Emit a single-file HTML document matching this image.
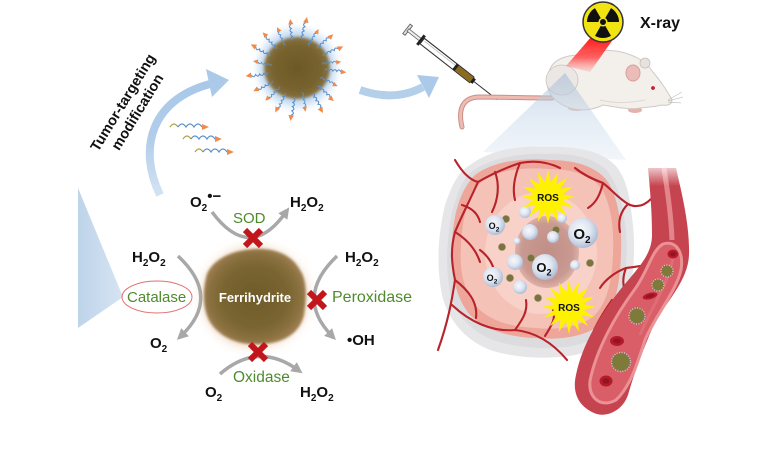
<!DOCTYPE html>
<html><head><meta charset="utf-8"><style>
html,body{margin:0;padding:0;background:#fff;}
svg{display:block;}
text{font-family:"Liberation Sans",Arial,sans-serif;}
</style></head><body>
<svg width="780" height="470" viewBox="0 0 780 470" xmlns="http://www.w3.org/2000/svg" xmlns:xlink="http://www.w3.org/1999/xlink">
<defs>
 <linearGradient id="triG" x1="0" y1="0" x2="1" y2="0"><stop offset="0" stop-color="#bed4ea"/><stop offset="1" stop-color="#d6e4f2"/></linearGradient>
 <linearGradient id="arcG" x1="0" y1="1" x2="0" y2="0"><stop offset="0" stop-color="#d3e3f3"/><stop offset="0.5" stop-color="#b2cdea"/><stop offset="1" stop-color="#a9c8e8"/></linearGradient>
 <linearGradient id="coneG" x1="0" y1="0" x2="0" y2="1"><stop offset="0" stop-color="#a3bbd3" stop-opacity="0.6"/><stop offset="0.45" stop-color="#c3d5e8" stop-opacity="0.5"/><stop offset="1" stop-color="#e2ebf5" stop-opacity="0.45"/></linearGradient>
 <linearGradient id="beamG" x1="0" y1="0" x2="0" y2="1"><stop offset="0" stop-color="#ff1010"/><stop offset="0.6" stop-color="#ff4040" stop-opacity="0.8"/><stop offset="1" stop-color="#ff9090" stop-opacity="0.25"/></linearGradient>
 <radialGradient id="npG"><stop offset="0" stop-color="#6c5826"/><stop offset="0.7" stop-color="#78632f"/><stop offset="0.92" stop-color="#85703e"/><stop offset="1" stop-color="#9a8656" stop-opacity="0.3"/></radialGradient>
 <radialGradient id="haloG"><stop offset="0.6" stop-color="#a6c8ee"/><stop offset="0.82" stop-color="#cfe2f6" stop-opacity="0.8"/><stop offset="1" stop-color="#ffffff" stop-opacity="0"/></radialGradient>
 <radialGradient id="ferG"><stop offset="0" stop-color="#6e5b2a"/><stop offset="0.65" stop-color="#7a6531"/><stop offset="0.9" stop-color="#8a7140"/><stop offset="1" stop-color="#9a7a4c"/></radialGradient>
 <radialGradient id="glowG"><stop offset="0.7" stop-color="#d9a878" stop-opacity="0.8"/><stop offset="1" stop-color="#f4dcc4" stop-opacity="0"/></radialGradient>
 <radialGradient id="bubG" cx="0.42" cy="0.4" r="0.6"><stop offset="0" stop-color="#f6f8fc"/><stop offset="0.55" stop-color="#dfe6f1"/><stop offset="0.85" stop-color="#bfcbe0"/><stop offset="1" stop-color="#aebdd6"/></radialGradient>
 <radialGradient id="coreG"><stop offset="0" stop-color="#c08e86"/><stop offset="0.8" stop-color="#c99a91"/><stop offset="1" stop-color="#deb1a8"/></radialGradient>
 <linearGradient id="topFade" x1="0" y1="0" x2="0" y2="1"><stop offset="0" stop-color="#fff" stop-opacity="1"/><stop offset="1" stop-color="#fff" stop-opacity="0"/></linearGradient>
 <filter id="b1" x="-20%" y="-20%" width="140%" height="140%"><feGaussianBlur stdDeviation="1.2"/></filter>
 <filter id="b2" x="-30%" y="-30%" width="160%" height="160%"><feGaussianBlur stdDeviation="2.2"/></filter>
 <filter id="b4" x="-30%" y="-30%" width="160%" height="160%"><feGaussianBlur stdDeviation="4"/></filter>
 <marker id="ah" viewBox="0 0 10 10" refX="5" refY="5" markerWidth="3.2" markerHeight="3.2" orient="auto"><path d="M0,0 L10,5 L0,10 Z" fill="#a8a8a8"/></marker>
 <g id="strand">
  <path d="M28,0 q2,-3.5 4,0 q2,-3.5 4,0 q2,-3.5 4,0 q2,-3.5 4,0" fill="none" stroke="#5b8fc6" stroke-width="1"/>
  <path d="M44,-2.6 L49.5,0 L44,2.6 Z" fill="#f0894a"/>
 </g>
 <g id="star">
  <polygon points="27,0 14.7,2.9 24.9,10.3 12.5,8.3 19.1,19.1 8.3,12.5 10.3,24.9 2.9,14.7 0,27 -2.9,14.7 -10.3,24.9 -8.3,12.5 -19.1,19.1 -12.5,8.3 -24.9,10.3 -14.7,2.9 -27,0 -14.7,-2.9 -24.9,-10.3 -12.5,-8.3 -19.1,-19.1 -8.3,-12.5 -10.3,-24.9 -2.9,-14.7 0,-27 2.9,-14.7 10.3,-24.9 8.3,-12.5 19.1,-19.1 12.5,-8.3 24.9,-10.3 14.7,-2.9" fill="#fff200"/>
 </g>
</defs>

<!-- left blue wedge -->
<polygon points="78,188 123,297 78,328" fill="url(#triG)"/>

<!-- big curved arrow -->
<path d="M160,195 C138,150 150,100 210,84" fill="none" stroke="url(#arcG)" stroke-width="8"/>
<polygon points="206,69 229,80 212,97" fill="#abc9e8"/>

<!-- rotated label -->
<text x="127" y="105" font-size="14.5" font-weight="bold" text-anchor="middle" fill="#111" transform="rotate(-58.6 127 105)">Tumor-targeting</text>
<text x="141.5" y="114.5" font-size="14.5" font-weight="bold" text-anchor="middle" fill="#111" transform="rotate(-58.6 141.5 114.5)">modification</text>

<!-- free ligands -->
<g fill="none" stroke-width="1.2">
 <path d="M170,127 q4,-6 8,0" stroke="#b0a040"/><path d="M178,127 q4,-6 8,0 q4,-6 8,0 q4,-6 8,0" stroke="#5b8fc6"/>
 <path d="M183,139 q4,-6 8,0" stroke="#b0a040"/><path d="M191,139 q4,-6 8,0 q4,-6 8,0 q4,-6 8,0" stroke="#5b8fc6"/>
 <path d="M195,152 q4,-6 8,0" stroke="#b0a040"/><path d="M203,152 q4,-6 8,0 q4,-6 8,0 q4,-6 8,0" stroke="#5b8fc6"/>
</g>
<path d="M202,124 L209,127 L202,130 Z M215,136 L222,139 L215,142 Z M227,149 L234,152 L227,155 Z" fill="#f0894a"/>

<!-- top nanoparticle -->
<circle cx="297" cy="68" r="46" fill="url(#haloG)" filter="url(#b2)"/>
<ellipse cx="297" cy="68" rx="34" ry="32" fill="url(#npG)" filter="url(#b1)"/>
<g transform="translate(297 68)">
 <use href="#strand" transform="rotate(5)"/><use href="#strand" transform="rotate(24) scale(0.9)"/>
 <use href="#strand" transform="rotate(42)"/><use href="#strand" transform="rotate(60) scale(1.05)"/>
 <use href="#strand" transform="rotate(79) scale(0.9)"/><use href="#strand" transform="rotate(97) scale(1.08)"/>
 <use href="#strand" transform="rotate(116)"/><use href="#strand" transform="rotate(134) scale(0.92)"/>
 <use href="#strand" transform="rotate(152)"/><use href="#strand" transform="rotate(171) scale(1.05)"/>
 <use href="#strand" transform="rotate(189) scale(0.9)"/><use href="#strand" transform="rotate(207) scale(1.05)"/>
 <use href="#strand" transform="rotate(226)"/><use href="#strand" transform="rotate(244) scale(0.92)"/>
 <use href="#strand" transform="rotate(262)"/><use href="#strand" transform="rotate(281) scale(1.05)"/>
 <use href="#strand" transform="rotate(299) scale(0.9)"/><use href="#strand" transform="rotate(317)"/>
 <use href="#strand" transform="rotate(335) scale(1.03)"/><use href="#strand" transform="rotate(352) scale(0.9)"/>
</g>

<!-- right arrow -->
<path d="M360,90 Q395,102 423,87" fill="none" stroke="#b3cfea" stroke-width="8"/>
<polygon points="417,75 439,77 429,98" fill="#abc9e8"/>

<!-- syringe -->
<g transform="translate(408 30) rotate(38)">
 <rect x="-2" y="-6" width="3" height="12" fill="#ddd" stroke="#555" stroke-width="0.8"/>
 <rect x="0" y="-1.5" width="16" height="3" fill="#eee" stroke="#666" stroke-width="0.8"/>
 <rect x="15" y="-6" width="3" height="12" fill="#222"/>
 <rect x="18" y="-3.5" width="63" height="7" fill="#fff" stroke="#333" stroke-width="1.1"/>
 <line x1="20" y1="-1.3" x2="60" y2="-1.3" stroke="#bbb" stroke-width="0.8"/>
 <rect x="61" y="-3" width="20" height="6" fill="#8d6b1e"/>
 <rect x="59" y="-3.5" width="3" height="7" fill="#222"/>
 <rect x="81" y="-2.8" width="3" height="5.6" fill="#222"/>
 <line x1="84" y1="0" x2="113" y2="0" stroke="#333" stroke-width="1"/>
</g>

<!-- mouse -->
<path d="M552,98 C530,98 500,97 478,97 C462,98 458,110 462,127" fill="none" stroke="#c89088" stroke-width="5" stroke-linecap="round"/>
<path d="M552,98 C530,98 500,97 478,97 C462,98 458,110 462,127" fill="none" stroke="#efbab2" stroke-width="3" stroke-linecap="round"/>
<ellipse cx="577" cy="108" rx="9" ry="3" fill="#e8b0aa"/>
<ellipse cx="635" cy="110" rx="7" ry="3" fill="#e8b0aa"/>
<path d="M549,72 C552,60 565,55 580,55 C595,49 615,49 628,54 C640,58 648,64 652,71 C660,80 668,92 672,100 C672,104 668,106 662,105 C655,107 648,107 640,108 C630,110 615,107 603,105 C595,109 585,111 575,109 C562,107 552,99 549,91 C546,84 546,78 549,72 Z" fill="#f3efeb" stroke="#d2cac4" stroke-width="1"/>
<path d="M600,100 C615,104 630,103 645,100" fill="none" stroke="#e0d8d2" stroke-width="1"/>
<ellipse cx="562" cy="80" rx="16" ry="15" fill="#ebe7e4" stroke="#cdc4be" stroke-width="0.8"/>
<ellipse cx="645" cy="63" rx="5" ry="5" fill="#e8e2de" stroke="#c8beb8" stroke-width="0.8"/>
<ellipse cx="633" cy="73" rx="7" ry="8" fill="#ecbcb8" stroke="#d6a09c" stroke-width="1"/>
<circle cx="653" cy="88" r="1.9" fill="#c0202a"/>
<path d="M668,100 L682,92 M668,101 L683,97 M668,102 L681,103" stroke="#aaa" stroke-width="0.5"/>

<!-- blue cone (over mouse, semi-transparent) -->
<polygon points="565,73 483,152 626,160" fill="url(#coneG)"/>

<!-- red beam -->
<polygon points="592,36 614,38 590,72 566,66" fill="url(#beamG)"/>
<!-- radiation symbol -->
<circle cx="603" cy="22" r="20" fill="#f2e412" stroke="#333" stroke-width="1.5"/>
<path d="M605.25,25.9 L611,35.86 A16,16 0 0 1 595,35.86 L600.75,25.9 A4.5,4.5 0 0 0 605.25,25.9 Z" fill="#111"/>
<path d="M598.5,22 L587,22 A16,16 0 0 1 595,8.14 L600.75,18.1 A4.5,4.5 0 0 0 598.5,22 Z" fill="#111"/>
<path d="M605.25,18.1 L611,8.14 A16,16 0 0 1 619,22 L607.5,22 A4.5,4.5 0 0 0 605.25,18.1 Z" fill="#111"/>
<circle cx="603" cy="22" r="3" fill="#111"/>
<text x="640" y="28" font-size="16" font-weight="bold" fill="#111">X-ray</text>

<!-- tumor -->
<path d="M470,165 C490,150 520,145 545,147 C575,146 600,150 615,165 C628,180 630,200 633,225 C636,255 632,285 628,310 C622,335 600,350 575,355 C548,360 515,358 490,350 C465,340 448,320 442,295 C436,265 438,235 445,205 C452,185 458,172 470,165 Z" fill="#e6e6e8"/>
<path d="M474,170 C494,157 522,153 546,154 C574,153 596,158 608,172 C620,188 623,208 626,230 C628,258 625,285 620,307 C614,328 595,342 572,346 C546,350 516,348 493,340 C470,331 455,314 450,292 C445,265 447,238 452,212 C458,192 462,178 474,170 Z" fill="#dcdcde"/>
<path d="M475,175 C495,160 525,158 550,160 C578,160 600,168 610,185 C620,205 622,230 621,255 C620,285 615,310 600,325 C582,338 558,340 535,338 C508,337 485,330 470,315 C456,298 450,272 452,245 C453,215 460,190 475,175 Z" fill="#eea69a"/>
<path d="M481,182 C499,169 526,167 549,169 C574,169 594,176 603,191 C612,209 614,231 613,254 C612,282 607,303 594,316 C578,328 557,330 536,328 C511,327 490,321 477,307 C464,292 459,270 461,246 C462,219 468,195 481,182 Z" fill="#f5c2b8"/>
<ellipse cx="541" cy="253" rx="56" ry="61" fill="#f8d1c8"/>
<ellipse cx="547" cy="252" rx="32" ry="36" fill="url(#coreG)"/>

<!-- tumor vessels -->
<g fill="none" stroke="#b8222a" stroke-width="2.1" stroke-linecap="round">
 <path d="M455,160 C462,172 470,180 478,182"/>
 <path d="M478,182 C490,175 505,168 520,163 C535,160 548,162 560,168"/>
 <path d="M478,182 C470,200 462,215 455,232 C450,250 452,265 455,280 C452,300 448,322 438,350"/>
 <path d="M520,163 C515,175 512,188 515,200"/>
 <path d="M495,172 C500,185 498,200 492,212"/>
 <path d="M455,232 C468,240 476,250 480,262"/>
 <path d="M462,205 C472,208 478,214 480,222"/>
 <path d="M455,280 C468,290 478,302 476,318"/>
 <path d="M452,305 C470,322 492,332 515,330 C535,332 552,342 567,360"/>
 <path d="M515,330 C522,320 528,312 526,300"/>
 <path d="M545,336 C552,325 556,318 553,310"/>
 <path d="M575,168 C585,176 595,180 603,183 C612,190 618,198 628,204 C636,208 644,206 651,199"/>
 <path d="M628,204 C620,212 618,222 620,232"/>
 <path d="M603,183 C600,195 596,203 588,208"/>
 <path d="M652,264 C642,266 633,267 626,268 C622,278 623,286 625,292"/>
 <path d="M626,268 C615,272 605,280 600,288"/>
 <path d="M612,300 C605,310 600,318 594,330"/>
 <path d="M480,250 C488,256 492,262 494,270"/>
</g>

<!-- olive dots -->
<g fill="#7a7242" stroke="#a49a68" stroke-width="0.6">
 <circle cx="506" cy="219" r="3.6"/><circle cx="502" cy="247" r="3.6"/><circle cx="531" cy="258" r="3.6"/>
 <circle cx="510" cy="278" r="3.6"/><circle cx="538" cy="298" r="3.6"/><circle cx="590" cy="263" r="3.6"/>
 <circle cx="556" cy="230" r="3.6"/>
</g>

<!-- bubbles -->
<g>
 <circle cx="515" cy="262" r="8" fill="url(#bubG)"/>
 <circle cx="520" cy="287" r="7" fill="url(#bubG)"/>
 <circle cx="530" cy="232" r="8" fill="url(#bubG)"/>
 <circle cx="553" cy="237" r="6" fill="url(#bubG)"/>
 <circle cx="562" cy="218" r="5" fill="url(#bubG)"/>
 <circle cx="575" cy="265" r="5" fill="url(#bubG)"/>
 <circle cx="517" cy="241" r="3.5" fill="url(#bubG)"/>
 <circle cx="525" cy="212" r="6" fill="url(#bubG)"/>
 <circle cx="495" cy="225" r="10" fill="url(#bubG)"/>
 <circle cx="583" cy="233" r="15" fill="url(#bubG)"/>
 <circle cx="545" cy="267" r="13" fill="url(#bubG)"/>
 <circle cx="493" cy="277" r="10" fill="url(#bubG)"/>
</g>
<g font-weight="bold" fill="#111" text-anchor="middle">
 <text x="494" y="229" font-size="9">O<tspan dy="2.5" font-size="6.5">2</tspan></text>
 <text x="582" y="239" font-size="15">O<tspan dy="4" font-size="10">2</tspan></text>
 <text x="544" y="272" font-size="13">O<tspan dy="3.5" font-size="9">2</tspan></text>
 <text x="492" y="281" font-size="9">O<tspan dy="2.5" font-size="6.5">2</tspan></text>
</g>

<!-- ROS stars -->
<use href="#star" transform="translate(548 197)"/>
<use href="#star" transform="translate(569 307)"/>
<text x="548" y="201" font-size="10" font-weight="bold" text-anchor="middle" fill="#111">ROS</text>
<text x="569" y="311" font-size="10" font-weight="bold" text-anchor="middle" fill="#111">ROS</text>

<!-- blood vessel -->
<path d="M648,168 L676,168 C681,190 690,225 689,255 C688,280 668,300 655,322 C645,345 635,370 628,395 C622,412 605,418 594,413 C578,406 572,392 576,375 C582,345 600,315 620,290 C638,268 652,255 652,235 C652,210 650,190 648,168 Z" fill="#c6444f"/>
<path d="M664,168 C668,195 671,215 672,240" fill="none" stroke="#e3868c" stroke-width="5"/>
<path d="M663,244 C676,240 684,252 681,270 C676,292 655,316 645,340 C636,368 629,388 616,400 C602,408 588,399 590,381 C596,350 615,316 635,289 C648,271 652,250 663,244 Z" fill="#d95e68" stroke="#eb9297" stroke-width="3"/>
<path d="M673,258 C668,285 650,310 640,335" fill="none" stroke="#e27880" stroke-width="3" opacity="0.6"/>
<rect x="640" y="160" width="55" height="26" fill="url(#topFade)"/>
<g>
 <ellipse cx="673" cy="254" rx="5.5" ry="4.5" fill="#b41c2c"/><ellipse cx="673" cy="254" rx="3" ry="2.2" fill="#941422"/>
 <ellipse cx="650" cy="296" rx="7.5" ry="3.2" fill="#b41c2c" transform="rotate(-15 650 296)"/><ellipse cx="650" cy="296" rx="4.5" ry="1.5" fill="#941422" transform="rotate(-15 650 296)"/>
 <ellipse cx="617" cy="341" rx="7" ry="5" fill="#b41c2c"/><ellipse cx="617" cy="341" rx="4" ry="2.5" fill="#941422"/>
 <ellipse cx="606" cy="381" rx="6.5" ry="5.5" fill="#b41c2c"/><ellipse cx="606" cy="381" rx="3.5" ry="2.8" fill="#941422"/>
</g>
<g fill="#7d7a3a" stroke="#d5c8e0" stroke-width="1.4" stroke-dasharray="1 1.5">
 <circle cx="667" cy="271" r="6"/><circle cx="658" cy="285" r="6"/><circle cx="637" cy="316" r="8"/><circle cx="621" cy="362" r="9.5"/>
</g>

<!-- Ferrihydrite -->
<ellipse cx="255" cy="297" rx="60" ry="57" fill="url(#glowG)" filter="url(#b4)"/>
<path d="M255,249 C275,248 292,255 300,270 C308,282 306,300 304,315 C300,332 285,343 262,344 C240,346 220,338 210,322 C202,308 203,288 207,274 C214,258 234,250 255,249 Z" fill="url(#ferG)" filter="url(#b1)"/>
<text x="255" y="302" font-size="13" font-weight="bold" text-anchor="middle" fill="#fff">Ferrihydrite</text>

<!-- reaction arrows -->
<g fill="none" stroke="#a8a8a8" stroke-width="3.5" marker-end="url(#ah)">
 <path d="M212,212 Q250,263 286,212"/>
 <path d="M178,256 Q222,297 181,336"/>
 <path d="M337,256 Q294,297 332,336"/>
 <path d="M220,374 Q258,341 298,370"/>
</g>

<!-- red X marks -->
<g stroke="#c3161c" stroke-width="6" stroke-linecap="butt">
 <path d="M245,230 L261,246 M261,230 L245,246"/>
 <path d="M309,292 L325,308 M325,292 L309,308"/>
 <path d="M250,344 L266,360 M266,344 L250,360"/>
</g>

<!-- Catalase ellipse -->
<ellipse cx="157" cy="297" rx="35" ry="16" fill="none" stroke="#e07070" stroke-width="1"/>

<!-- labels -->
<g font-weight="bold" fill="#111" font-size="15">
 <text x="190" y="207">O<tspan dy="4" font-size="10">2</tspan><tspan dy="-10" font-size="15">•−</tspan></text>
 <text x="290" y="207">H<tspan dy="4" font-size="10">2</tspan><tspan dy="-4">O</tspan><tspan dy="4" font-size="10">2</tspan></text>
 <text x="132" y="262">H<tspan dy="4" font-size="10">2</tspan><tspan dy="-4">O</tspan><tspan dy="4" font-size="10">2</tspan></text>
 <text x="150" y="348">O<tspan dy="4" font-size="10">2</tspan></text>
 <text x="345" y="262">H<tspan dy="4" font-size="10">2</tspan><tspan dy="-4">O</tspan><tspan dy="4" font-size="10">2</tspan></text>
 <text x="347" y="345">•OH</text>
 <text x="205" y="397">O<tspan dy="4" font-size="10">2</tspan></text>
 <text x="300" y="397">H<tspan dy="4" font-size="10">2</tspan><tspan dy="-4">O</tspan><tspan dy="4" font-size="10">2</tspan></text>
</g>
<g fill="#4f8b2c">
 <text x="233" y="223" font-size="15">SOD</text>
 <text x="127" y="302" font-size="15">Catalase</text>
 <text x="332" y="302" font-size="16">Peroxidase</text>
 <text x="233" y="382" font-size="15.5">Oxidase</text>
</g>
</svg>
</body></html>
